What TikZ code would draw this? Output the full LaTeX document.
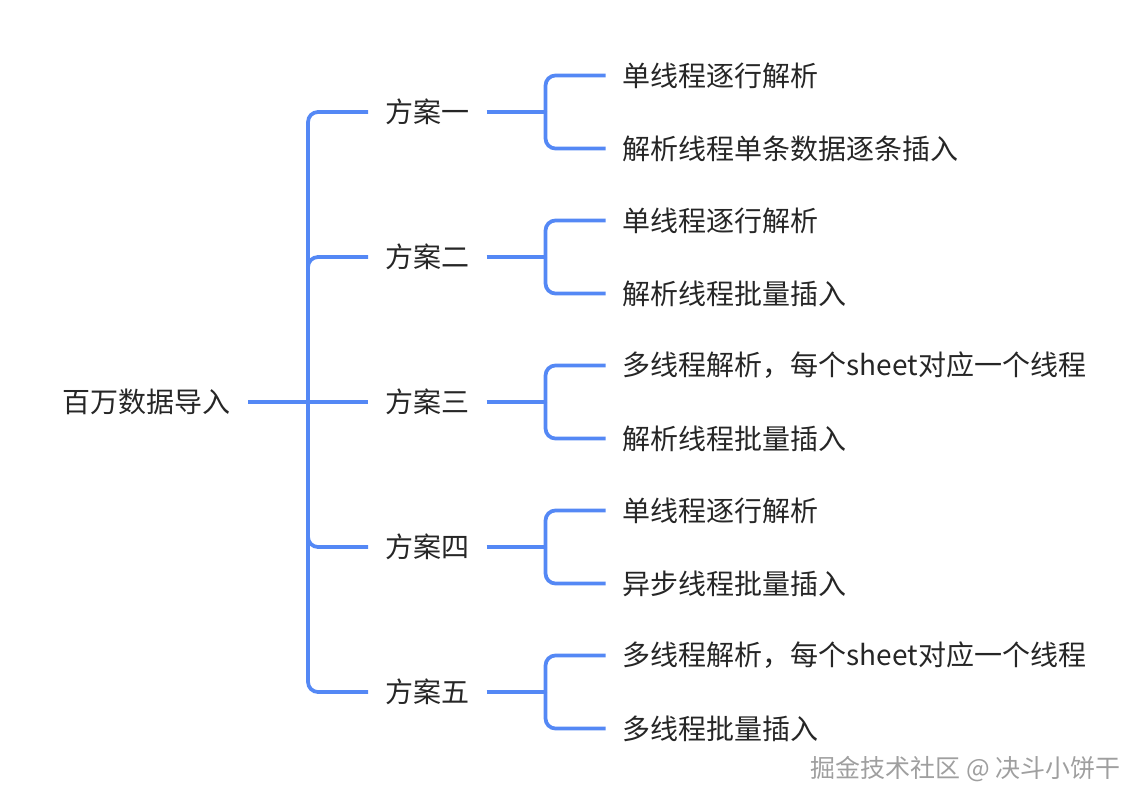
\documentclass[tikz,border=0pt]{standalone}
\usepackage{fontspec}
\setmainfont{Noto Sans CJK SC}
\usetikzlibrary{calc,positioning}
\definecolor{linkblue}{RGB}{84,136,245}
\definecolor{textgray}{RGB}{38,38,38}
\tikzset{
  topic/.style={inner xsep=12.75pt, inner ysep=2pt, text=textgray,
    font=\fontsize{21pt}{25pt}\selectfont},
  link/.style={draw=linkblue, line width=2.8pt, rounded corners=7.5pt},
}

\begin{document}
\begin{tikzpicture}[x=0.75pt,y=-0.75pt]
   \useasboundingbox (0,0) rectangle (1148,806);
   % root and the five branches
   \node[topic, anchor=east] (root) at (248,402) {百万数据导入};
   \node[topic] (s_3) [right=90pt of root] {方案三};
   \node[topic] (s_2) [on grid, above=108.75pt of s_3] {方案二};
   \node[topic] (s_1) [on grid, above=108.75pt of s_2] {方案一};
   \node[topic] (s_4) [on grid, below=108.75pt of s_3] {方案四};
   \node[topic] (s_5) [on grid, below=108.75pt of s_4] {方案五};
   % leaves
   \node[topic, anchor=west] (s_11) at ($(s_1.east)+(89.25pt,27.4pt)$) {单线程逐行解析};
   \node[topic, anchor=west] (s_12) at ($(s_1.east)+(89.25pt,-27.4pt)$) {解析线程单条数据逐条插入};
   \node[topic, anchor=west] (s_21) at ($(s_2.east)+(89.25pt,27.4pt)$) {单线程逐行解析};
   \node[topic, anchor=west] (s_22) at ($(s_2.east)+(89.25pt,-27.4pt)$) {解析线程批量插入};
   \node[topic, anchor=west] (s_31) at ($(s_3.east)+(89.25pt,27.4pt)$) {多线程解析，每个sheet对应一个线程};
   \node[topic, anchor=west] (s_32) at ($(s_3.east)+(89.25pt,-27.4pt)$) {解析线程批量插入};
   \node[topic, anchor=west] (s_41) at ($(s_4.east)+(89.25pt,27.4pt)$) {单线程逐行解析};
   \node[topic, anchor=west] (s_42) at ($(s_4.east)+(89.25pt,-27.4pt)$) {异步线程批量插入};
   \node[topic, anchor=west] (s_51) at ($(s_5.east)+(89.25pt,27.4pt)$) {多线程解析，每个sheet对应一个线程};
   \node[topic, anchor=west] (s_52) at ($(s_5.east)+(89.25pt,-27.4pt)$) {多线程批量插入};
   % watermark
   \node[anchor=east, text=gray!75, font=\fontsize{18.75pt}{22pt}\selectfont] (mark) at (1125,769) {掘金技术社区 @ 决斗小饼干};

   \coordinate (hub) at ($(root.east)!0.5!(s_3.west)$);
   \coordinate (j_1) at ($(s_1.east)+(44.25pt,0)$);
   \coordinate (j_2) at ($(s_2.east)+(44.25pt,0)$);
   \coordinate (j_3) at ($(s_3.east)+(44.25pt,0)$);
   \coordinate (j_4) at ($(s_4.east)+(44.25pt,0)$);
   \coordinate (j_5) at ($(s_5.east)+(44.25pt,0)$);

   \draw[link] (root) -- (s_3);
   \draw[link] (hub) |- (s_1);
   \draw[link] (hub) |- (s_2);
   \draw[link] (hub) |- (s_4);
   \draw[link] (hub) |- (s_5);

   \draw[link] (s_1) -- (j_1);
   \draw[link] (s_2) -- (j_2);
   \draw[link] (s_3) -- (j_3);
   \draw[link] (s_4) -- (j_4);
   \draw[link] (s_5) -- (j_5);

   \draw[link] (j_1) |- (s_11);
   \draw[link] (j_1) |- (s_12);
   \draw[link] (j_2) |- (s_21);
   \draw[link] (j_2) |- (s_22);
   \draw[link] (j_3) |- (s_31);
   \draw[link] (j_3) |- (s_32);
   \draw[link] (j_4) |- (s_41);
   \draw[link] (j_4) |- (s_42);
   \draw[link] (j_5) |- (s_51);
   \draw[link] (j_5) |- (s_52);
\end{tikzpicture}
\end{document}
